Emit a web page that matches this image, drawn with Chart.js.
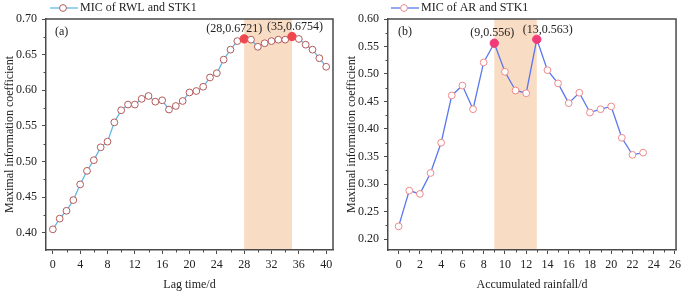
<!DOCTYPE html>
<html><head><meta charset="utf-8">
<script src="https://cdn.jsdelivr.net/npm/chart.js@4.4.0/dist/chart.umd.min.js"></script>
<style>
html,body{margin:0;padding:0;background:#fff;overflow:hidden}
#wrap{position:relative;width:685px;height:294px}
canvas{position:absolute;top:0}
#ca{left:0}
#cb{left:342px}
</style></head><body>
<div id="wrap"><canvas id="ca" width="342" height="294"></canvas><canvas id="cb" width="343" height="294"></canvas></div>
<script>
// ---------- Panel (a) data ----------
const lagTime = [0,1,2,3,4,5,6,7,8,9,10,11,12,13,14,15,16,17,18,19,20,21,22,23,24,25,26,27,28,29,30,31,32,33,34,35,36,37,38,39,40];
const micRWL = [0.405,0.420,0.431,0.446,0.468,0.487,0.502,0.520,0.528,0.555,0.572,0.580,0.580,0.588,0.592,0.584,0.586,0.573,0.578,0.585,0.597,0.599,0.605,0.618,0.624,0.643,0.657,0.669,0.6721,0.671,0.661,0.666,0.669,0.671,0.671,0.6754,0.672,0.664,0.657,0.645,0.633];
const rwlPeakLags = [28, 35];
const rwlPeakLabels = ['(28,0.6721)', '(35,0.6754)'];
const rwlBand = [28, 35];
const rwlXTicks = [0,4,8,12,16,20,24,28,32,36,40];
const rwlXMinor = [2,6,10,14,18,22,26,30,34,38];
const rwlYTicks = [0.40,0.45,0.50,0.55,0.60,0.65,0.70];
const rwlYMinor = [0.425,0.475,0.525,0.575,0.625,0.675];

// ---------- Panel (b) data ----------
const rainDays = [0,1,2,3,4,5,6,7,8,9,10,11,12,13,14,15,16,17,18,19,20,21,22,23];
const micAR = [0.223,0.288,0.282,0.320,0.375,0.461,0.479,0.436,0.521,0.556,0.504,0.470,0.465,0.563,0.507,0.483,0.447,0.466,0.430,0.436,0.441,0.384,0.353,0.357];
const arPeakDays = [9, 13];
const arPeakLabels = ['(9,0.556)', '(13,0.563)'];
const arBand = [9, 13];
const arXTicks = [0,2,4,6,8,10,12,14,16,18,20,22,24,26];
const arXMinor = [1,3,5,7,9,11,13,15,17,19,21,23,25];
const arYTicks = [0.20,0.25,0.30,0.35,0.40,0.45,0.50,0.55,0.60];
const arYMinor = [0.225,0.275,0.325,0.375,0.425,0.475,0.525,0.575];

const FONT = "'Liberation Serif','Times New Roman',serif";
Chart.defaults.font.family = FONT;
Chart.defaults.font.size = 12;
Chart.defaults.color = '#222';
const AXIS = '#4a4a4a';

function legendIcon(lineColor, markColor) {
  const c = document.createElement('canvas');
  c.width = 30; c.height = 10;
  const g = c.getContext('2d');
  g.strokeStyle = lineColor; g.lineWidth = 1.3;
  g.beginPath(); g.moveTo(0, 5); g.lineTo(30, 5); g.stroke();
  g.fillStyle = '#fff'; g.strokeStyle = markColor; g.lineWidth = 1;
  g.beginPath(); g.arc(15, 5, 3.4, 0, Math.PI * 2); g.fill(); g.stroke();
  return c;
}

const decor = {
  id: 'decor',
  afterLayout(chart, args, o) {
    chart.legend.left += o.legendShift;
    chart.legend.right += o.legendShift;
  },
  beforeDraw(chart, args, o) {
    const {ctx, chartArea: {top, bottom}, scales: {x}} = chart;
    const x0 = x.getPixelForValue(o.band[0]), x1 = x.getPixelForValue(o.band[1]);
    ctx.save(); ctx.fillStyle = o.bandColor;
    ctx.fillRect(x0, top, x1 - x0, bottom - top);
    ctx.restore();
  },
  afterDraw(chart, args, o) {
    const {ctx, chartArea: {left, right, top, bottom}, scales: {x, y}} = chart;
    ctx.save();
    // frame top & right
    ctx.strokeStyle = AXIS; ctx.lineWidth = 1.5;
    ctx.beginPath();
    ctx.moveTo(left, top); ctx.lineTo(right, top); ctx.lineTo(right, bottom);
    ctx.stroke();
    // minor ticks
    ctx.lineWidth = 1;
    ctx.beginPath();
    o.xMinor.forEach(v => { const px = Math.round(x.getPixelForValue(v)) + 0.5; ctx.moveTo(px, bottom); ctx.lineTo(px, bottom + 2.5); });
    o.yMinor.forEach(v => { const py = Math.round(y.getPixelForValue(v)) + 0.5; ctx.moveTo(left, py); ctx.lineTo(left - 2.5, py); });
    ctx.stroke();
    // peak annotations
    ctx.fillStyle = '#222'; ctx.font = '12px ' + FONT;
    ctx.textAlign = 'center'; ctx.textBaseline = 'middle';
    o.peaks.forEach((px, i) => {
      const idx = o.xs.indexOf(px);
      const X = x.getPixelForValue(px), Y = y.getPixelForValue(o.ys[idx]);
      ctx.fillText(o.labels[i], X + o.dx[i], Y + o.dy[i]);
    });
    // panel letter
    ctx.textAlign = 'left';
    ctx.fillText(o.letter, left + o.letterDx, top + 13);
    ctx.restore();
  }
};

function makeChart(id, p) {
  const peakIdx = p.xs.map(v => p.peaks.includes(v));
  return new Chart(document.getElementById(id), {
    type: 'line',
    data: {
      datasets: [{
        label: p.label,
        data: p.xs.map((v, i) => ({x: v, y: p.ys[i]})),
        borderColor: p.lineColor,
        borderWidth: 1.3,
        tension: 0,
        pointRadius: peakIdx.map(h => h ? 4.2 : 3.4),
        pointBorderWidth: 1,
        pointBorderColor: peakIdx.map(h => h ? p.peakColor : p.markColor),
        pointBackgroundColor: peakIdx.map(h => h ? p.peakColor : '#fff'),
        clip: false
      }]
    },
    options: {
      responsive: false, animation: false, devicePixelRatio: 1,
      layout: {padding: {left: 0, right: p.padRight, top: 0, bottom: 0}},
      plugins: {
        tooltip: {enabled: false},
        legend: {
          display: true, position: 'top', align: 'start', maxHeight: 19,
          labels: {
            usePointStyle: true, pointStyle: legendIcon(p.lineColor, p.markColor),
            pointStyleWidth: 22, padding: 2, color: '#222', font: {size: 12, family: FONT}
          }
        },
        decor: {
          legendShift: p.legendShift, band: p.band, bandColor: '#f9dcc4',
          xMinor: p.xMinor, yMinor: p.yMinor, peaks: p.peaks, labels: p.peakLabels,
          xs: p.xs, ys: p.ys, dx: p.dx, dy: p.dy, letter: p.letter, letterDx: p.letterDx
        }
      },
      scales: {
        x: {
          type: 'linear', min: p.xMin, max: p.xMax,
          afterBuildTicks: s => { s.ticks = p.xTicks.map(v => ({value: v})); },
          afterFit: s => { s.height = 44; },
          ticks: {autoSkip: false, maxRotation: 0, padding: 4, color: '#222', font: {size: 12}, callback: v => String(v)},
          grid: {drawOnChartArea: false, drawTicks: true, tickLength: 4, color: AXIS, tickWidth: 1},
          border: {color: AXIS, width: 1.5},
          title: {display: true, text: p.xTitle, color: '#222', font: {size: 12}, padding: {top: 0, bottom: 2}}
        },
        y: {
          type: 'linear', min: p.yMin, max: p.yMax,
          afterBuildTicks: s => { s.ticks = p.yTicks.map(v => ({value: v})); },
          afterFit: s => { s.width = 46; },
          ticks: {padding: 5, color: '#222', font: {size: 12}, callback: v => Number(v).toFixed(2)},
          grid: {drawOnChartArea: false, drawTicks: true, tickLength: 4, color: AXIS, tickWidth: 1},
          border: {color: AXIS, width: 1.5},
          title: {display: true, text: 'Maximal information coefficient', color: '#222', font: {size: 12}, padding: {top: 3, bottom: 0}}
        }
      }
    },
    plugins: [decor]
  });
}

makeChart('ca', {
  label: 'MIC of RWL and STK1', xs: lagTime, ys: micRWL,
  lineColor: '#62b9e6', markColor: '#b35a5a', peakColor: '#f0464e',
  peaks: rwlPeakLags, peakLabels: rwlPeakLabels, band: rwlBand,
  xTicks: rwlXTicks, xMinor: rwlXMinor, yTicks: rwlYTicks, yMinor: rwlYMinor,
  xMin: -1, xMax: 41, yMin: 0.376, yMax: 0.70, padRight: 9, legendShift: 50,
  xTitle: 'Lag time/d', dx: [-10, 3], dy: [-10, -10], letter: '(a)', letterDx: 9
});
makeChart('cb', {
  label: 'MIC of AR and STK1', xs: rainDays, ys: micAR,
  lineColor: '#5a77ee', markColor: '#ee8a8a', peakColor: '#f03a7a',
  peaks: arPeakDays, peakLabels: arPeakLabels, band: arBand,
  xTicks: arXTicks, xMinor: arXMinor, yTicks: arYTicks, yMinor: arYMinor,
  xMin: -1, xMax: 26.1, yMin: 0.18, yMax: 0.60, padRight: 7, legendShift: 49,
  xTitle: 'Accumulated rainfall/d', dx: [-2, 11], dy: [-10, -10], letter: '(b)', letterDx: 10
});
</script>
</body></html>
